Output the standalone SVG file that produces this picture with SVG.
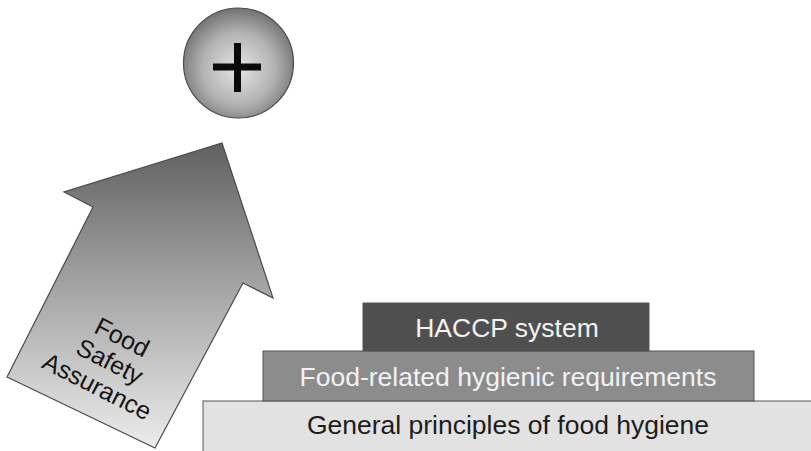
<svg xmlns="http://www.w3.org/2000/svg" width="811" height="451" viewBox="0 0 811 451">
  <defs>
    <linearGradient id="arrowGrad" gradientUnits="userSpaceOnUse" x1="0" y1="143" x2="0" y2="448">
      <stop offset="0" stop-color="#606060"/>
      <stop offset="0.4" stop-color="#9a9a9a"/>
      <stop offset="1" stop-color="#ececec"/>
    </linearGradient>
    <radialGradient id="circleGrad" cx="0.5" cy="0.55" r="0.55">
      <stop offset="0" stop-color="#e6e6e6"/>
      <stop offset="0.6" stop-color="#b2b2b2"/>
      <stop offset="1" stop-color="#727272"/>
    </radialGradient>
    <style>
      .lbl { font-family: "Liberation Sans", Arial, sans-serif; font-size: 26.5px; text-anchor: middle; }
      .light { fill: #f2f2f2; }
      .dark { fill: #1c1c1c; }
      .box { stroke: #555555; stroke-width: 1; }
      .arrowtxt { font-family: "Liberation Sans", Arial, sans-serif; font-size: 25px; text-anchor: middle; fill: #151515; }
    </style>
  </defs>
  <rect width="811" height="451" fill="#ffffff"/>

  <g id="arrow">
    <path d="M7,377 L93,207 L64,192 L222,143 L273,298 L243,283 L155,448 Z" fill="url(#arrowGrad)" stroke="#4a4a4a" stroke-width="1.2" stroke-linejoin="miter"/>
    <g transform="translate(110,361) rotate(27)">
      <text class="arrowtxt" x="0" y="-18">Food</text>
      <text class="arrowtxt" x="0" y="9">Safety</text>
      <text class="arrowtxt" x="0" y="37">Assurance</text>
    </g>
  </g>

  <g id="plus-circle">
    <circle cx="238.5" cy="63" r="55" fill="url(#circleGrad)" stroke="#4a4a4a" stroke-width="1.2"/>
    <rect x="213" y="63.5" width="48" height="7" fill="#0a0a0a"/>
    <rect x="234" y="43" width="7" height="49" fill="#0a0a0a"/>
  </g>

  <g id="general-principles">
    <rect class="box" x="203" y="401" width="612" height="54" fill="#e2e2e2"/>
    <text class="lbl dark" x="508" y="434">General principles of food hygiene</text>
  </g>

  <g id="food-related">
    <rect class="box" x="263" y="351" width="491" height="50" fill="#8c8c8c"/>
    <text class="lbl light" x="508" y="386">Food-related hygienic requirements</text>
  </g>

  <g id="haccp">
    <rect class="box" x="363" y="303" width="286" height="48" fill="#4f4f4f"/>
    <text class="lbl light" x="507" y="337">HACCP system</text>
  </g>

  <g id="connectors"></g>
</svg>
